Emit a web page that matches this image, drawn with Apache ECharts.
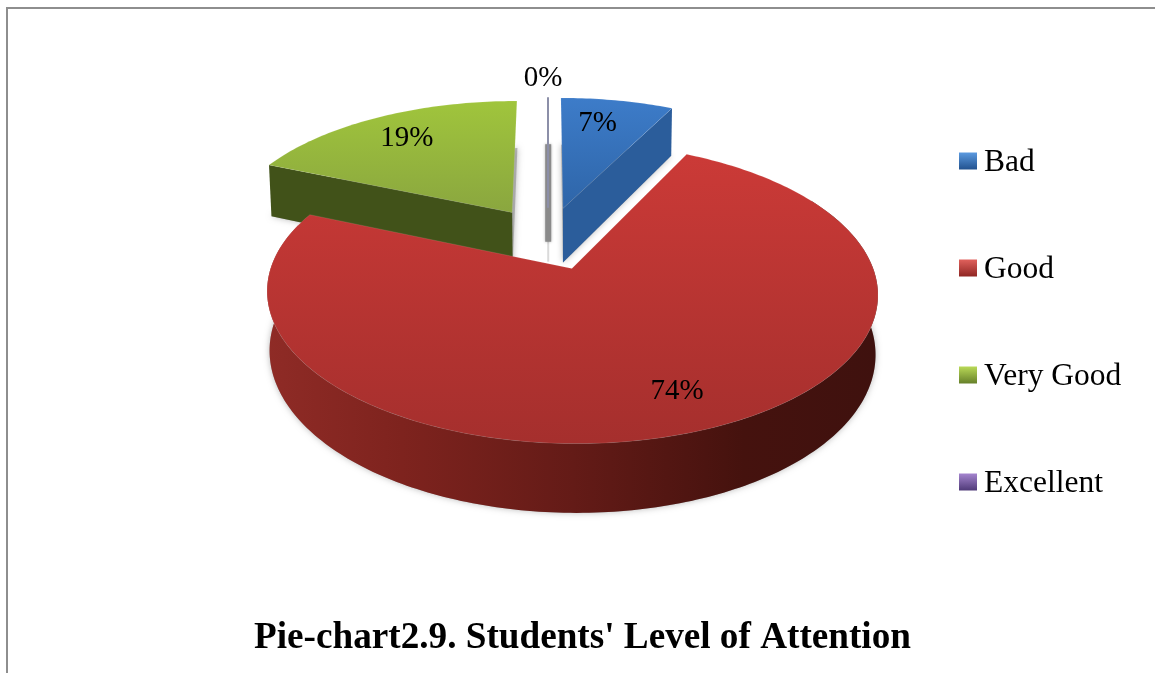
<!DOCTYPE html>
<html><head><meta charset="utf-8">
<style>html,body{margin:0;padding:0;background:#fff}#c{width:1155px;height:673px}</style>
<script src="https://cdn.jsdelivr.net/npm/echarts@6/dist/echarts.min.js"></script>
</head><body><div id="c"></div>
<script>
const categories = ['Bad', 'Good', 'Very Good', 'Excellent'];
const values = [7.4, 74, 18.6, 0];
const percentLabels = ['7%', '74%', '19%', '0%'];
const chartTitle = "Pie-chart2.9. Students' Level of Attention";

const SERIF = '"Liberation Serif","Times New Roman",serif';
// Oblique view of the pie: pivot, half-axes, perspective, extrusion, explosion
const VIEW = { ox: 548, oy: 238, a: 291, b: 136.6, k: 0.158, depth: 56, explode: 0.23, firstAngle: 0, shrink: 0.992, cx: 574 };
const LABEL_RADIUS = [0.78, 0.78, 0.78, 1.22];
const LABEL_NUDGE = [[-9, 2], [10, 1], [2, 2], [-5, 2]];
const PALETTE = [
  { top: ['#3d7cc9', '#2e65a8'], wall: ['#2b5d9b', '#2a5890'], legend: ['#5b9ae0', '#22528f'] },
  { top: ['#cb3a37', '#a52f2d'], wall: ['#8f2b26', '#3a0f0c'], legend: ['#e0615c', '#8f2623'] },
  { top: ['#a0c53c', '#8aa63f'], wall: ['#415219', '#3f4e1a'], legend: ['#b9d957', '#66802a'] },
  { top: ['#8c8fa8', '#8c8fa8'], wall: ['#8a8a8a', '#8a8a8a'], legend: ['#a585cf', '#4f3a78'] }
];

const total = values.reduce((s, v) => s + v, 0);
const starts = [];
values.reduce((acc, v, i) => { starts[i] = acc; return acc + v; }, 0);

function project(u, w, z) {
  const s = 1 / (1 + VIEW.k * w);
  let X = VIEW.ox + VIEW.a * u * s;
  const Y = VIEW.oy - VIEW.b * w * s + (z ? VIEW.depth * s : 0);
  if (z) X = VIEW.cx + (X - VIEW.cx) * VIEW.shrink;
  return [X, Y];
}
const rad = d => d * Math.PI / 180;

function sliceChildren(idx, value) {
  const t0 = VIEW.firstAngle + starts[idx] / total * 360;
  const t1 = t0 + value / total * 360;
  const mid = (t0 + t1) / 2;
  const ou = VIEW.explode * Math.sin(rad(mid));
  const ow = VIEW.explode * Math.cos(rad(mid));
  const rim = (t, z) => project(ou + Math.sin(rad(t)), ow + Math.cos(rad(t)), z);
  const apex = z => project(ou, ow, z);
  const arc = (a, b, z) => {
    const pts = [];
    const n = Math.max(1, Math.ceil(Math.abs(b - a)));
    for (let i = 0; i <= n; i++) pts.push(rim(a + (b - a) * i / n, z));
    return pts;
  };
  const pal = PALETTE[idx];
  const vGrad = c => ({ type: 'linear', x: 0, y: 0, x2: 0, y2: 1, colorStops: [{ offset: 0, color: c[0] }, { offset: 1, color: c[1] }] });
  const kids = [];

  if (value === 0) {
    const a0 = rim(t0, false), a1 = apex(false), b0 = rim(t0, true), b1 = apex(true);
    const cut = [b0[0] + (b1[0] - b0[0]) * 0.83, b0[1] + (b1[1] - b0[1]) * 0.83];
    kids.push({ type: 'line', shape: { x1: b0[0], y1: b0[1], x2: b1[0], y2: b1[1] }, style: { stroke: 'rgba(150,150,150,0.35)', lineWidth: 2 } });
    kids.push({ type: 'line', shape: { x1: b0[0], y1: b0[1], x2: cut[0], y2: cut[1] }, style: { stroke: pal.wall[0], lineWidth: 6, shadowBlur: 3, shadowColor: 'rgba(0,0,0,0.3)' } });
    kids.push({ type: 'line', shape: { x1: a0[0], y1: a0[1], x2: a1[0], y2: a1[1] }, style: { stroke: pal.top[0], lineWidth: 2 } });
  } else {
    // floor face carries the soft shadow
    kids.push({ type: 'polygon', shape: { points: [apex(true)].concat(arc(t0, t1, true)) }, style: { fill: 'rgba(135,135,135,0.55)', shadowBlur: 6, shadowColor: 'rgba(0,0,0,0.5)' } });
    // radial walls that face the viewer
    const wall = t => ({ type: 'polygon', shape: { points: [apex(false), rim(t, false), rim(t, true), apex(true)] }, style: { fill: pal.wall[0] } });
    if (Math.sin(rad(t0)) < -0.1) kids.push(wall(t0));
    if (Math.sin(rad(t1)) > 0.1) kids.push(wall(t1));
    // curved outer wall, front part only
    const fa = Math.max(t0, 60), fb = Math.min(t1, 288);
    if (fb > fa) {
      const strip = arc(fa, fb, false).concat(arc(fa, fb, true).reverse());
      kids.push({ type: 'polygon', shape: { points: strip }, style: { fill: {
        type: 'linear', x: 1, y: 0, x2: 0, y2: 0,
        colorStops: [
          { offset: 0, color: '#3f110e' }, { offset: 0.22, color: '#45120e' },
          { offset: 0.5, color: '#641b17' }, { offset: 0.78, color: '#7e231e' },
          { offset: 1, color: pal.wall[0] }
        ] } } });
    }
    // top face
    kids.push({ type: 'polygon', shape: { points: [apex(false)].concat(arc(t0, t1, false)) },
      style: { fill: vGrad(pal.top), stroke: 'rgba(255,255,255,0.10)', lineWidth: 1 } });
  }
  // data label
  const r = LABEL_RADIUS[idx];
  const lp = project(ou + r * Math.sin(rad(mid)), ow + r * Math.cos(rad(mid)), false);
  kids.push({ type: 'text', z2: 50, style: { x: lp[0] + LABEL_NUDGE[idx][0], y: lp[1] + LABEL_NUDGE[idx][1], text: percentLabels[idx], fill: '#000', font: '29px ' + SERIF, textAlign: 'center', textVerticalAlign: 'middle' } });
  return kids;
}

// painter's order: far slices first, the big front slice last
const DRAW_ORDER = { 'Bad': 1, 'Excellent': 2, 'Very Good': 3, 'Good': 4 };

const series = categories.map((name, i) => ({
  name, type: 'custom', coordinateSystem: 'none', silent: true, z: DRAW_ORDER[name],
  itemStyle: { color: PALETTE[i].top[0] },
  data: [[values[i]]],
  renderItem: (params, api) => ({ type: 'group', children: sliceChildren(i, api.value(0)) })
}));

const chart = echarts.init(document.getElementById('c'), null, { renderer: 'canvas' });
chart.setOption({
  animation: false,
  backgroundColor: '#fff',
  title: { text: chartTitle, left: 577.5, top: 615, textAlign: 'center',
    textStyle: { fontFamily: SERIF, fontSize: 37.2, fontWeight: 'bold', color: '#000' } },
  legend: {
    orient: 'vertical', left: 959, top: 147, padding: 0, itemWidth: 18, itemHeight: 17, itemGap: 75,
    selectedMode: false, icon: 'rect',
    formatter: name => '{a|' + name + '}',
    textStyle: { fontFamily: SERIF, fontSize: 31.5, color: '#000',
      rich: { a: { fontFamily: SERIF, fontSize: 31.5, color: '#000', padding: [4, 0, 0, 2] } } },
    data: categories.map((name, i) => ({ name, itemStyle: { color: {
      type: 'linear', x: 0, y: 0, x2: 0, y2: 1,
      colorStops: [{ offset: 0, color: PALETTE[i].legend[0] }, { offset: 1, color: PALETTE[i].legend[1] }] } } }))
  },
  graphic: [{ type: 'polyline', z: 0, silent: true, shape: { points: [[7, 700], [7, 8], [1160, 8]] }, style: { fill: 'none', stroke: '#8e8e8e', lineWidth: 2 } }],
  series
});
</script></body></html>
